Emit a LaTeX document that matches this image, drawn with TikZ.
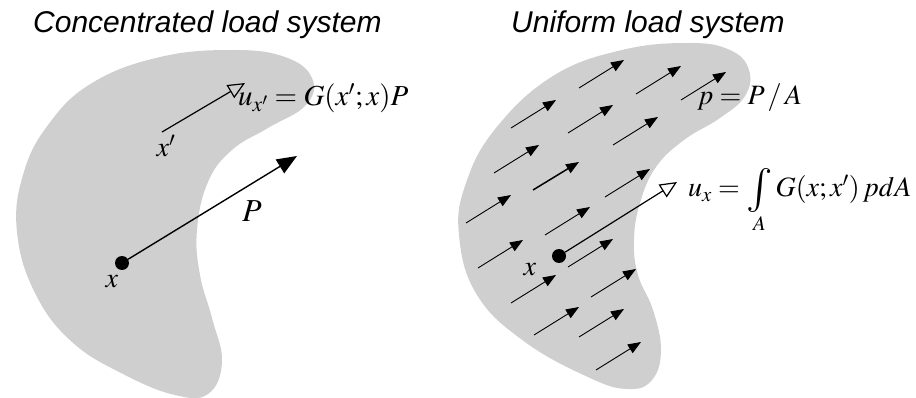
\documentclass[tikz,border=0pt]{standalone}
\usepackage{mathptmx}
\usepackage{graphicx}
\usepackage[no-math]{fontspec}
\setsansfont{Liberation Sans}
\usetikzlibrary{arrows.meta}
\definecolor{blobgray}{HTML}{CFCFCF}
\newcommand{\bigint}{\mathop{\vcenter{\hbox{\resizebox{!}{33pt}{$\int$}}}}}
\tikzset{blob/.style={fill=blobgray,draw=none},load/.style={-{Triangle[length=13pt,width=10pt]},line width=.9pt},force/.style={-{Triangle[length=20pt,width=16pt]},line width=1.4pt},disp/.style={-{Triangle[open,length=17pt,width=15pt]},line width=1.2pt},dot/.style={circle,fill=black,inner sep=0pt,minimum size=14pt},ttl/.style={font=\sffamily\itshape\fontsize{30}{33}\selectfont,anchor=base west,inner sep=0pt},lab/.style={font=\fontsize{28}{30}\selectfont,inner sep=0pt}}

\begin{document}
\begin{tikzpicture}[x=1pt,y=-1pt]
\useasboundingbox (0,0) rectangle (916,398);
% titles
\node[ttl] (t1) at (33,33) {Concentrated load system};
\node[ttl] (t2) at (511,33) {Uniform load system};
% bodies
\fill[blob] plot[smooth cycle,tension=.7] coordinates {(233,50) (285,57) (312,78) (306,105) (268,128) (232,150) (208,182) (197,230) (200,275) (212,318) (222,362) (208,394) (175,395) (125,375) (72,342) (35,293) (17,232) (23,175) (48,125) (92,83) (160,57)};
\fill[blob] plot[smooth cycle,tension=.7] coordinates {(689,43) (730,50) (749,70) (745,96) (720,118) (684,140) (656,167) (640,203) (634,240) (638,275) (653,310) (661,350) (652,380) (628,389) (590,378) (525,342) (477,295) (459,235) (466,183) (496,128) (553,76) (622,50)};
% concentrated load
\node[dot] (xa) at (122,263) {};
\coordinate (ptip) at (297,156);
\draw[force] (xa) -- (ptip);
\node[lab] (lxa) at (112,282) {$x$};
\node[lab,font=\fontsize{32}{34}\selectfont] (lp) at (252,211) {$P$};
\coordinate (xb) at (162,132);
\coordinate (utip) at (245,83);
\draw[disp] (xb) -- (utip);
\node[lab] (lxb) at (166,146) {$x'$};
\node[lab,font=\fontsize{29}{31}\selectfont,anchor=base west] (eq1) at (238,106) {$u_{x'}=G(x';x)P$};
% uniform load
\foreach \a/\b in {579/88,636/94,681/100,511/128,568/133,613/145,494/173,605/197,466/223,545/235,478/268,568/267,511/303,591/297,534/335,579/337,596/370}
  \draw[load] (\a,\b) -- ++(45,-28);
\draw[load,line width=1.5pt] (533,190) -- ++(46,-28);
\node[dot] (xc) at (559,256) {};
\coordinate (vtip) at (677,182);
\draw[disp] (xc) -- (vtip);
\node[lab] (lxc) at (530,270) {$x$};
\node[lab,anchor=base west] (eq2) at (688,197) {$u_x=\bigint\limits_A G(x;x')\,pdA$};
\node[lab,anchor=base west] (eq3) at (697,105) {$p=P\,/\,A$};
\end{tikzpicture}
\end{document}
